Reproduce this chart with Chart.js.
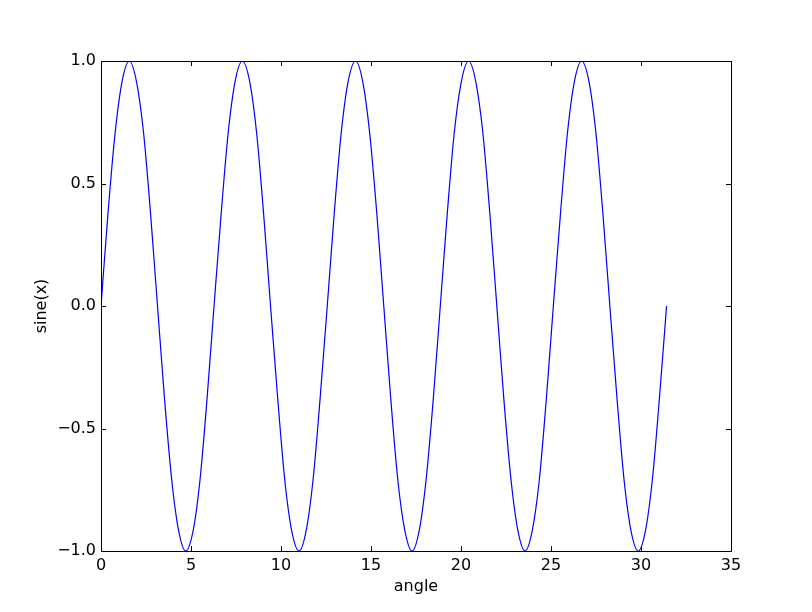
<!DOCTYPE html>
<html>
<head>
<meta charset="utf-8">
<script src="https://cdn.jsdelivr.net/npm/chart.js@4/dist/chart.umd.min.js"></script>
<style>
  html, body { margin: 0; padding: 0; background: #fff; }
  canvas { display: block; }
</style>
</head>
<body>
<canvas id="chart" width="812" height="612"></canvas>
<script>
// values (angle in x, sine in y)
const angle = [
  0.00, 0.39, 0.79, 1.18, 1.57, 1.96, 2.36, 2.75, 3.14, 3.53, 3.93, 4.32, 4.71, 5.11, 5.50, 5.89,
  6.28, 6.68, 7.07, 7.46, 7.85, 8.25, 8.64, 9.03, 9.42, 9.82, 10.21, 10.60, 11.00, 11.39, 11.78, 12.17,
  12.57, 12.96, 13.35, 13.74, 14.14, 14.53, 14.92, 15.32, 15.71, 16.10, 16.49, 16.89, 17.28, 17.67, 18.06, 18.46,
  18.85, 19.24, 19.63, 20.03, 20.42, 20.81, 21.21, 21.60, 21.99, 22.38, 22.78, 23.17, 23.56, 23.95, 24.35, 24.74,
  25.13, 25.53, 25.92, 26.31, 26.70, 27.10, 27.49, 27.88, 28.27, 28.67, 29.06, 29.45, 29.85, 30.24, 30.63, 31.02,
  31.42
];
const sine = [
  0, 0.38, 0.71, 0.92, 1, 0.92, 0.71, 0.38, 0, -0.38, -0.71, -0.92, -1, -0.92, -0.71, -0.38,
  0, 0.38, 0.71, 0.92, 1, 0.92, 0.71, 0.38, 0, -0.38, -0.71, -0.92, -1, -0.92, -0.71, -0.38,
  0, 0.38, 0.71, 0.92, 1, 0.92, 0.71, 0.38, 0, -0.38, -0.71, -0.92, -1, -0.92, -0.71, -0.38,
  0, 0.38, 0.71, 0.92, 1, 0.92, 0.71, 0.38, 0, -0.38, -0.71, -0.92, -1, -0.92, -0.71, -0.38,
  0, 0.38, 0.71, 0.92, 1, 0.92, 0.71, 0.38, 0, -0.38, -0.71, -0.92, -1, -0.92, -0.71, -0.38,
  0
];
const xTicks = [0, 5, 10, 15, 20, 25, 30, 35];
const yTicks = [-1.0, -0.5, 0.0, 0.5, 1.0];

const FONT = "'DejaVu Sans', sans-serif";
const points = angle.map((a, i) => ({ x: a, y: sine[i] }));

// frame on all four sides + inward ticks, matplotlib classic style
const frameTicks = {
  id: 'frameTicks',
  afterDraw: function(chart) {
    const ctx = chart.ctx;
    const a = chart.chartArea;
    const xs = chart.scales.x, ys = chart.scales.y;
    const len = 5;
    ctx.save();
    ctx.strokeStyle = '#000';
    ctx.lineWidth = 1;
    ctx.beginPath();
    xTicks.forEach(v => {
      const px = Math.round(xs.getPixelForValue(v)) + 0.5;
      ctx.moveTo(px, a.bottom); ctx.lineTo(px, a.bottom - len);
      ctx.moveTo(px, a.top); ctx.lineTo(px, a.top + len);
    });
    yTicks.forEach(v => {
      const py = Math.round(ys.getPixelForValue(v)) + 0.5;
      ctx.moveTo(a.left, py); ctx.lineTo(a.left + len, py);
      ctx.moveTo(a.right, py); ctx.lineTo(a.right - len, py);
    });
    ctx.stroke();
    ctx.strokeRect(Math.round(a.left) + 0.5, Math.round(a.top) + 0.5,
      Math.round(a.right - a.left), Math.round(a.bottom - a.top));
    ctx.restore();
  }
};

new Chart(document.getElementById('chart'), {
  type: 'line',
  data: {
    datasets: [{
      data: points,
      borderColor: '#0000ff',
      borderWidth: 1.2,
      pointRadius: 0,
      fill: false,
      cubicInterpolationMode: 'monotone'
    }]
  },
  options: {
    responsive: false,
    animation: false,
    events: [],
    layout: { padding: { left: 0, top: 61, right: 81, bottom: 0 } },
    plugins: { legend: { display: false }, tooltip: { enabled: false } },
    scales: {
      x: {
        type: 'linear',
        min: 0, max: 35,
        afterFit: s => { s.height = 61; },
        afterBuildTicks: s => { s.ticks = xTicks.map(v => ({ value: v })); },
        grid: { display: false, drawTicks: false },
        border: { display: false },
        ticks: {
          autoSkip: false, maxRotation: 0, padding: 5,
          color: '#000', font: { family: FONT, size: 16 },
          callback: v => String(v)
        },
        title: {
          display: true, text: 'angle', color: '#000',
          font: { family: FONT, size: 16 },
          padding: { top: 0, bottom: 16 }
        }
      },
      y: {
        type: 'linear',
        min: -1, max: 1,
        afterFit: s => { s.width = 101; },
        afterBuildTicks: s => { s.ticks = yTicks.map(v => ({ value: v })); },
        grid: { display: false, drawTicks: false },
        border: { display: false },
        ticks: {
          autoSkip: false, padding: 5,
          color: '#000', font: { family: FONT, size: 16 },
          callback: v => v.toFixed(1).replace('-', '\u2212')
        },
        title: {
          display: true, text: 'sine(x)', color: '#000',
          font: { family: FONT, size: 16 },
          padding: { top: 32, bottom: 0 }
        }
      }
    }
  },
  plugins: [frameTicks]
});
</script>
</body>
</html>
